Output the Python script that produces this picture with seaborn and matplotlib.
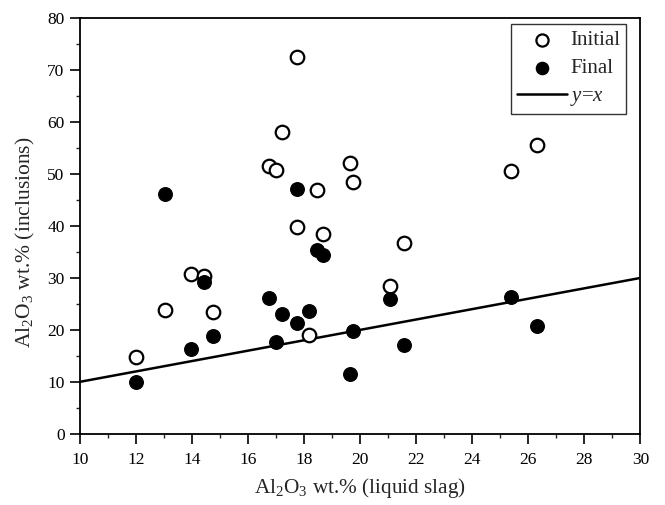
import numpy as np
import pandas as pd
import matplotlib
matplotlib.use("Agg")
import matplotlib.pyplot as plt
from matplotlib.ticker import MultipleLocator
import seaborn as sns


# =========================
# DATA
# =========================

slag_x = [12.0, 13.05, 13.96, 14.42, 14.76, 16.75, 17.0, 17.2, 17.74,
          17.74, 18.19, 18.48, 18.68, 19.64, 19.73, 21.07, 21.58, 25.39,
          26.32]

initial_y = [14.7, 23.9, 30.7, 30.4, 23.5, 51.6, 50.7, 58.0, 72.6,
             39.9, 19.0, 47.0, 38.5, 52.1, 48.4, 28.4, 36.7, 50.6,
             55.6]

final_y = [9.9, 46.2, 16.4, 29.3, 18.8, 26.1, 17.7, 23.1, 47.2,
           21.4, 23.7, 35.3, 34.5, 11.5, 19.8, 26.0, 17.1, 26.4,
           20.8]

line_x = [10, 30]
line_y = [10, 30]

x_ticks = list(range(10, 31, 2))
y_ticks = list(range(0, 81, 10))


# =========================
# STYLE
# =========================

sns.set_theme(style="ticks")

plt.rcParams["font.family"] = ["Liberation Serif", "DejaVu Serif"]
plt.rcParams["mathtext.fontset"] = "custom"
plt.rcParams["mathtext.rm"] = "Liberation Serif"
plt.rcParams["mathtext.it"] = "Liberation Serif:italic"
plt.rcParams["axes.edgecolor"] = "black"
plt.rcParams["axes.linewidth"] = 1.3


# =========================
# PLOT
# =========================

fig = plt.figure(figsize=(6.65, 5.05), dpi=100)
ax = fig.add_axes([0.120, 0.141, 0.843, 0.823])

sns.scatterplot(
    x=slag_x,
    y=initial_y,
    ax=ax,
    marker="o",
    s=95,
    facecolor="white",
    edgecolor="black",
    linewidth=1.6,
    label="Initial",
    zorder=3
)

sns.scatterplot(
    x=slag_x,
    y=final_y,
    ax=ax,
    marker="o",
    s=95,
    color="black",
    edgecolor="black",
    linewidth=1.0,
    label="Final",
    zorder=4
)

sns.lineplot(
    x=line_x,
    y=line_y,
    ax=ax,
    color="black",
    linewidth=1.8,
    label="$y$=$x$",
    zorder=2
)

ax.set_xlim(10, 30)
ax.set_ylim(0, 80)

ax.set_xticks(x_ticks)
ax.set_yticks(y_ticks)
ax.xaxis.set_minor_locator(MultipleLocator(1))
ax.yaxis.set_minor_locator(MultipleLocator(5))

ax.tick_params(axis="both", which="major", direction="out",
               length=7, width=1.2, labelsize=12.5, colors="black")
ax.tick_params(axis="x", which="major", pad=6)
ax.tick_params(axis="y", which="major", pad=4)
ax.tick_params(axis="both", which="minor", direction="out",
               length=3, width=1.0)

for side in ["top", "right", "left", "bottom"]:
    ax.spines[side].set_visible(True)
    ax.spines[side].set_color("black")

ax.set_xlabel("Al$_2$O$_3$ wt.% (liquid slag)", fontsize=15.3, labelpad=6)
ax.set_ylabel("Al$_2$O$_3$ wt.% (inclusions)", fontsize=15.5)
ax.yaxis.set_label_coords(-0.077, 0.46)

leg = ax.legend(
    loc="upper right",
    fontsize=15,
    frameon=True,
    fancybox=False,
    edgecolor="black",
    borderpad=0.3,
    labelspacing=0.4,
    handlelength=2.4,
    handletextpad=0.15,
    borderaxespad=0.0,
    markerscale=0.9,
    bbox_to_anchor=(0.975, 0.985)
)
leg.get_frame().set_linewidth(1.0)

plt.savefig("out.png", dpi=100)

plt.close()
